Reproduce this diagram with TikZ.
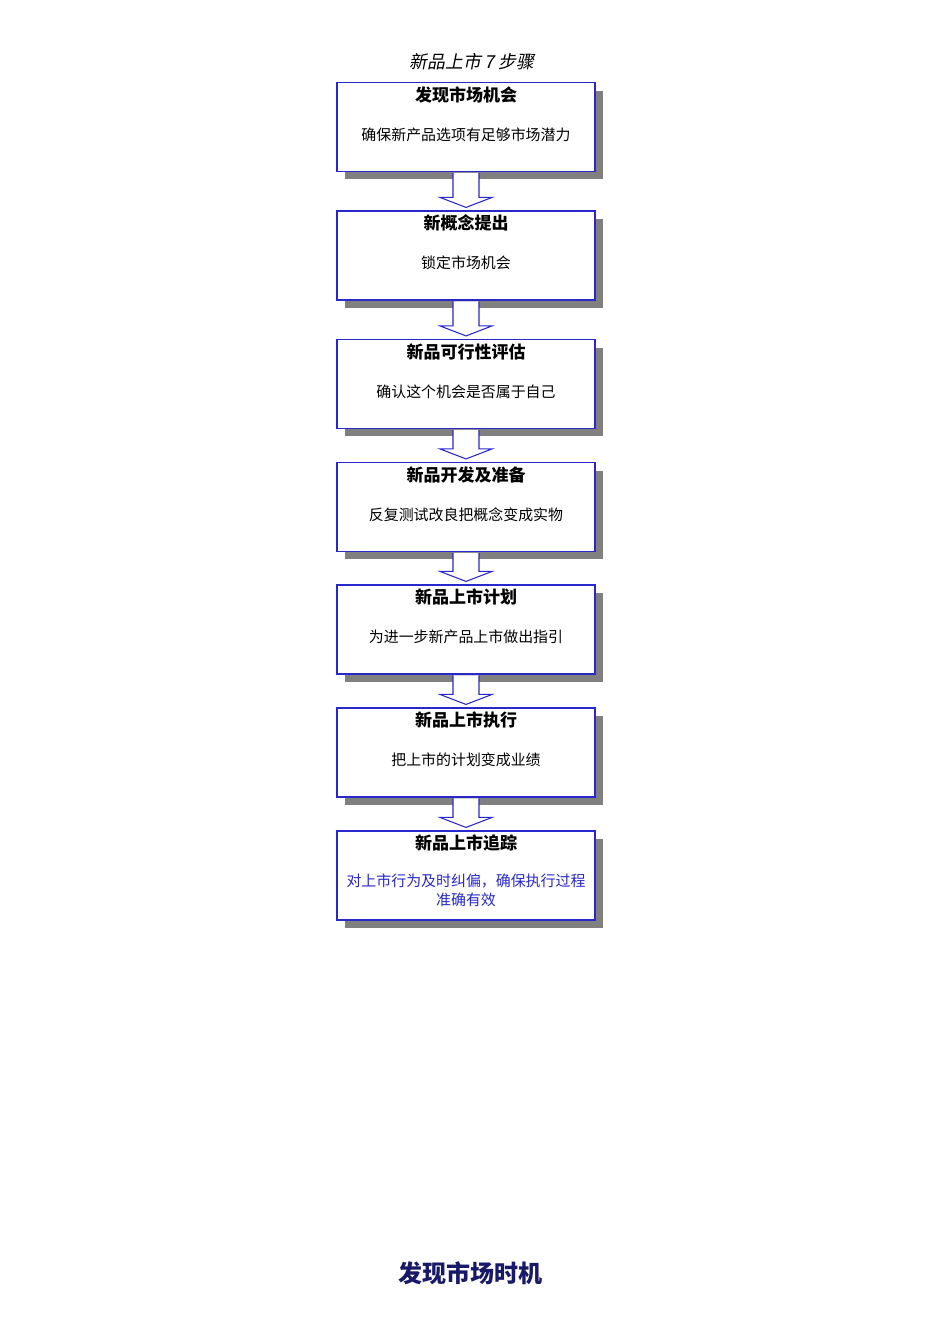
\documentclass[tikz,border=0pt]{standalone}
\usepackage{fontspec}
\setmainfont{Noto Sans CJK SC}
\newfontfamily\slantfont[FakeSlant=0.2]{Noto Sans CJK SC}
\usetikzlibrary{shadows,calc}
\tikzset{every picture/.style={line width=0.75pt}}
\definecolor{stepblue}{RGB}{40,40,205}
\definecolor{stepgray}{RGB}{128,128,128}
\definecolor{headnavy}{RGB}{25,25,105}
\tikzset{
  stepbox/.style={draw=stepblue, line width=1.1pt, fill=white, minimum width=193.5pt, minimum height=66.5pt, inner sep=0pt,
    general shadow={fill=stepgray, shadow xshift=6pt, shadow yshift=-6pt, opacity=1}},
  steptitle/.style={inner sep=0.75pt, font=\fontsize{12.75}{15}\selectfont\bfseries},
  stepbody/.style={inner sep=0.75pt, font=\fontsize{11.2}{14}\selectfont, align=center},
  flowarrow/.style={draw=stepblue, line width=0.8pt, fill=white, line join=miter}
}
% block arrow from the bottom of one box to the top of the next
\newcommand{\stepArrow}[2]{%
  \draw [flowarrow] ($(#1.south)+(-13,0.8)$) -- ($(#2.north)+(-13,-13)$) -- ($(#2.north)+(-26,-13)$) -- ($(#2.north)+(0,-3)$)
    -- ($(#2.north)+(26,-13)$) -- ($(#2.north)+(13,-13)$) -- ($(#1.south)+(13,0.8)$) ;}

\begin{document}
\begin{tikzpicture}[x=0.75pt,y=0.75pt,yscale=-1,xscale=1]
\useasboundingbox (0,0) rectangle (950,1344);

% Text Node
\node (chartTitle) at (472,62) [inner sep=0.75pt, font=\fontsize{13.4}{16}\selectfont\slantfont] {新品上市 7 步骤};

%Shape: Rectangle
\node (discover) at (466,127) [stepbox] {};
%Shape: Rectangle
\node (concept) at (466,255.5) [stepbox] {};
%Shape: Rectangle
\node (feasible) at (466,384) [stepbox] {};
%Shape: Rectangle
\node (develop) at (466,507) [stepbox] {};
%Shape: Rectangle
\node (plan) at (466,629.5) [stepbox] {};
%Shape: Rectangle
\node (execute) at (466,752.5) [stepbox] {};
%Shape: Rectangle
\node (track) at (466,875.5) [stepbox] {};

%Shape: Down Arrow
\stepArrow{discover}{concept}
\stepArrow{concept}{feasible}
\stepArrow{feasible}{develop}
\stepArrow{develop}{plan}
\stepArrow{plan}{execute}
\stepArrow{execute}{track}

% Text Node
\node (discoverT) at ($(discover.north)+(0,13)$) [steptitle] {发现市场机会};
\node (discoverB) at ($(discover.center)+(0,7.5)$) [stepbody] {确保新产品选项有足够市场潜力};
% Text Node
\node (conceptT) at ($(concept.north)+(0,13)$) [steptitle] {新概念提出};
\node (conceptB) at ($(concept.center)+(0,7.5)$) [stepbody] {锁定市场机会};
% Text Node
\node (feasibleT) at ($(feasible.north)+(0,13)$) [steptitle] {新品可行性评估};
\node (feasibleB) at ($(feasible.center)+(0,7.5)$) [stepbody] {确认这个机会是否属于自己};
% Text Node
\node (developT) at ($(develop.north)+(0,13)$) [steptitle] {新品开发及准备};
\node (developB) at ($(develop.center)+(0,7.5)$) [stepbody] {反复测试改良把概念变成实物};
% Text Node
\node (planT) at ($(plan.north)+(0,13)$) [steptitle] {新品上市计划};
\node (planB) at ($(plan.center)+(0,7.5)$) [stepbody] {为进一步新产品上市做出指引};
% Text Node
\node (executeT) at ($(execute.north)+(0,13)$) [steptitle] {新品上市执行};
\node (executeB) at ($(execute.center)+(0,7.5)$) [stepbody] {把上市的计划变成业绩};
% Text Node
\node (trackT) at ($(track.north)+(0,13)$) [steptitle] {新品上市追踪};
\node (trackB) at ($(track.center)+(0,15)$) [stepbody, text=stepblue] {对上市行为及时纠偏，确保执行过程\\准确有效};

% Text Node
\node (pageHead) at (470,1273) [inner sep=0.75pt, text=headnavy, font=\fontsize{18}{22}\selectfont\bfseries] {发现市场时机};
\end{tikzpicture}
\end{document}
